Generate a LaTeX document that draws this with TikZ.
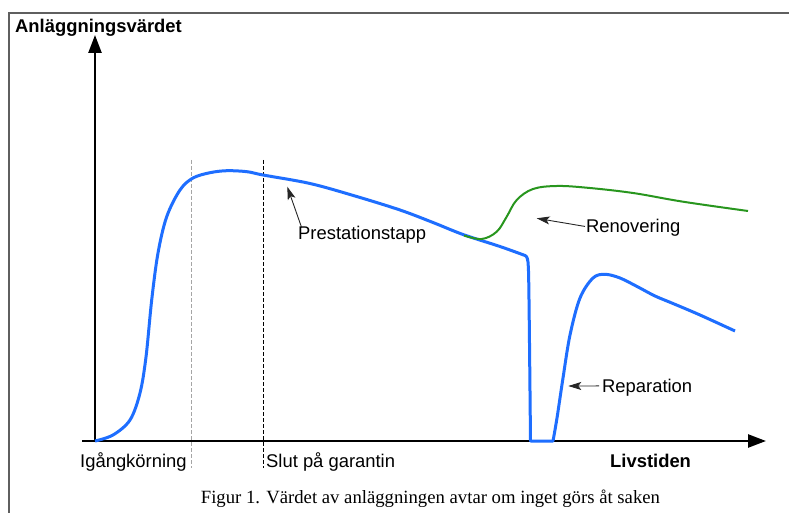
\documentclass[tikz,border=0pt]{standalone}
\usepackage{fontspec}
\setmainfont{Liberation Sans}
\newfontfamily\capfont{Liberation Serif}
\usetikzlibrary{arrows.meta}
\definecolor{curveblue}{RGB}{30,110,255}
\definecolor{renogreen}{RGB}{40,150,30}
\definecolor{framegray}{RGB}{95,95,95}
\definecolor{guidegray}{RGB}{165,165,165}
\begin{document}
\begin{tikzpicture}[x=1bp,y=-1bp,
  lbl/.style={font=\fontsize{18.4bp}{22bp}\selectfont, inner sep=0pt, anchor=base west},
  boldlbl/.style={font=\fontsize{18.4bp}{22bp}\selectfont\bfseries, inner sep=0pt, anchor=base west},
  captext/.style={font=\capfont\fontsize{18.7bp}{22bp}\selectfont, inner sep=0pt, anchor=base west},
  axisline/.style={line width=2.4bp, -{Triangle[length=18bp,width=13bp]}},
  guide/.style={line width=1bp, dash pattern=on 4bp off 2bp},
  note/.style={line width=0.9bp, black!85, -{Stealth[length=13bp,width=8bp,inset=3bp]}},
  bluecurve/.style={line width=3bp, curveblue, line join=round},
  greencurve/.style={line width=2bp, renogreen}
]
\useasboundingbox (0,0) rectangle (789,513);
\fill[white] (0,0) rectangle (789,513);
% frame
\draw[framegray, line width=2bp] (9,513) -- (9,13.5) -- (789,13.5);
% guide lines
\coordinate (g1t) at (191,160); \coordinate (g1b) at (191,468);
\coordinate (g2t) at (263,160); \coordinate (g2b) at (263,468);
\draw[guide, guidegray] (g1t) -- (g1b);
\draw[guide, black] (g2t) -- (g2b);
% axes
\coordinate (yo) at (95,442); \coordinate (ytip) at (95,35);
\coordinate (xo) at (82,441); \coordinate (xtip) at (766,441);
\draw[axisline] (yo) -- (ytip);
\draw[axisline] (xo) -- (xtip);
% blue curve
\draw[bluecurve] plot[smooth, tension=0.55] coordinates {(95,441) (113,435) (130,420) (140,393) (146,357) (151.7,300) (158,253) (166.7,216.7) (180,190) (193,178) (210,172.7) (227,170.7) (247,171.7) (263,175) (310,183.5) (355,196) (400,210) (433,222.5) (463,234.5) (500,246.5) (525,255.5)}
  -- plot[smooth, tension=0.5] coordinates {(525,255.5) (528,262) (529,300) (530.5,441)}
  -- (553,441)
  -- plot[smooth, tension=0.55] coordinates {(553,441) (557,418) (563,378) (570,335) (580,298) (593,278) (605,274.3) (620,278) (638,287) (655,296) (673,303.5) (700,315) (735,331)};
% green renovation curve
\draw[greencurve] plot[smooth, tension=0.6] coordinates {(464,235.5) (481.7,239) (496.7,231.7) (506.7,216.7) (516.7,200) (533,189) (556.7,186) (586.7,187.7) (633,193) (683,201.7) (748,211)};
% labels
\node[boldlbl] (ytitle) at (15,32.3) {Anläggningsvärdet};
\node[lbl] (igang) at (80,467) {Igångkörning};
\node[lbl] (slut) at (266,467) {Slut på garantin};
\node[boldlbl] (livs) at (610,467) {Livstiden};
\node[lbl] (prest) at (298,239.3) {Prestationstapp};
\node[lbl] (renov) at (586,232.7) {Renovering};
\node[lbl] (repar) at (602,392.7) {Reparation};
\node[captext] (cap) at (200.7,503.3) {Figur 1. Värdet av anläggningen avtar om inget görs åt saken};
% annotation arrows
\coordinate (prestTip) at (287.3,186.7);
\coordinate (renovTip) at (536.7,218.3);
\coordinate (reparTip) at (568.3,386);
\draw[note] ([xshift=3.7bp,yshift=-2bp]prest.north west) -- (prestTip);
\draw[note] ([xshift=-1bp,yshift=1.5bp]renov.west) -- (renovTip);
\draw[note] ([xshift=-3bp,yshift=2bp]repar.west) -- (reparTip);
\end{tikzpicture}
\end{document}
